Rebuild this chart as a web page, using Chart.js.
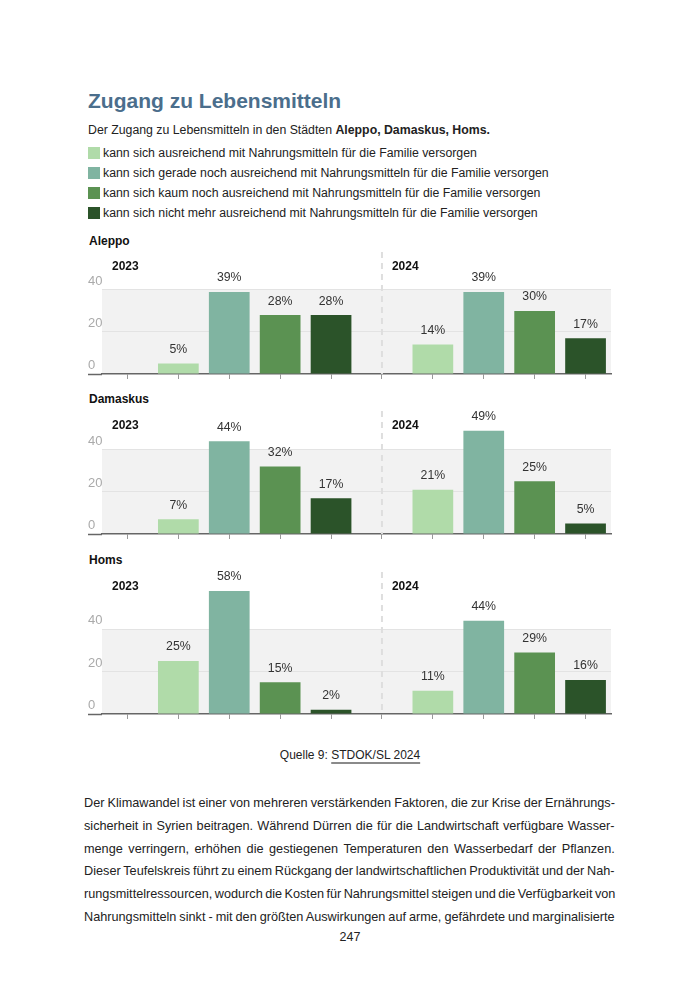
<!DOCTYPE html>
<html lang="de">
<head>
<meta charset="utf-8">
<script src="https://cdn.jsdelivr.net/npm/chart.js@4.4.1/dist/chart.umd.min.js"></script>
<style>
  body { margin: 0; background: #fff; }
  #page { position: relative; width: 700px; height: 990px; overflow: hidden;
          font-family: "Liberation Sans", Arial, sans-serif; color: #222; }
  .t { position: absolute; white-space: nowrap; }
  .title { left: 88px; top: 88px; font-size: 21px; line-height: 26px; font-weight: bold; color: #4b6e8c; }
  .sub { left: 88px; top: 122px; font-size: 12.3px; line-height: 17px; }
  .leg { left: 88px; font-size: 12.3px; line-height: 16px; }
  .leg i { display: inline-block; width: 12px; height: 12px; vertical-align: -2px; margin-right: 3px; }
  .city { left: 89px; font-size: 12px; line-height: 16px; font-weight: bold; color: #111; }
  canvas { position: absolute; left: 80px; }
  .src { left: 0; width: 700px; text-align: center; top: 747px; font-size: 12px; line-height: 16px; }
  .src u { text-decoration-color: #8a8a8a; text-decoration-thickness: 2px; text-underline-offset: 3px; }
  .line { left: 84px; font-size: 12.7px; line-height: 16px; color: #222; }
  .pnum { left: 0; width: 700px; text-align: center; top: 929px; font-size: 12.5px; line-height: 16px; }
</style>
</head>
<body>
<div id="page">
  <div class="t title">Zugang zu Lebensmitteln</div>
  <div class="t sub">Der Zugang zu Lebensmitteln in den Städten <b>Aleppo, Damaskus, Homs.</b></div>
  <div id="legend"></div>

  <div class="t city" style="top:233px">Aleppo</div>
  <canvas id="c0" width="540" height="142" style="top:242px"></canvas>
  <div class="t city" style="top:391px">Damaskus</div>
  <canvas id="c1" width="540" height="143" style="top:401px"></canvas>
  <div class="t city" style="top:552px">Homs</div>
  <canvas id="c2" width="540" height="162" style="top:562px"></canvas>

  <div class="t src">Quelle 9: <u>STDOK/SL 2024</u></div>
  <div id="para"></div>
  <div class="t pnum">247</div>
</div>
<script>
const years = ['2023', '2024'];
const groups = [
  'kann sich ausreichend mit Nahrungsmitteln für die Familie versorgen',
  'kann sich gerade noch ausreichend mit Nahrungsmitteln für die Familie versorgen',
  'kann sich kaum noch ausreichend mit Nahrungsmitteln für die Familie versorgen',
  'kann sich nicht mehr ausreichend mit Nahrungsmitteln für die Familie versorgen'
];
const groupColors = ['#b0dba9', '#80b4a1', '#5b9252', '#2b5329'];

const aleppo2023 = [5, 39, 28, 28];
const aleppo2024 = [14, 39, 30, 17];
const damaskus2023 = [7, 44, 32, 17];
const damaskus2024 = [21, 49, 25, 5];
const homs2023 = [25, 58, 15, 2];
const homs2024 = [11, 44, 29, 16];
const yTicks = [0, 20, 40];

const paraLines = [
  'Der Klimawandel ist einer von mehreren verstärkenden Faktoren, die zur Krise der Ernährungs-',
  'sicherheit in Syrien beitragen. Während Dürren die für die Landwirtschaft verfügbare Wasser-',
  'menge verringern, erhöhen die gestiegenen Temperaturen den Wasserbedarf der Pflanzen.',
  'Dieser Teufelskreis führt zu einem Rückgang der landwirtschaftlichen Produktivität und der Nah-',
  'rungsmittelressourcen, wodurch die Kosten für Nahrungsmittel steigen und die Verfügbarkeit von',
  'Nahrungsmitteln sinkt - mit den größten Auswirkungen auf arme, gefährdete und marginalisierte'
];

// legend
const legend = document.getElementById('legend');
groups.forEach((g, i) => {
  const d = document.createElement('div');
  d.className = 't leg';
  d.style.top = (145 + i * 20) + 'px';
  d.innerHTML = `<i style="background:${groupColors[i]}"></i>${g}`;
  legend.appendChild(d);
});

// paragraph, justified line by line
const para = document.getElementById('para');
const paraWidth = 531;
paraLines.forEach((txt, i) => {
  const d = document.createElement('div');
  d.className = 't line';
  d.style.top = (795 + i * 22.8) + 'px';
  d.textContent = txt;
  para.appendChild(d);
  const spaces = (txt.match(/ /g) || []).length;
  const natural = d.offsetWidth;
  d.style.wordSpacing = ((paraWidth - natural) / spaces) + 'px';
});

const slotLabels = years.flatMap(y => [y, ...groups]);
const slotColors = ['transparent', ...groupColors, 'transparent', ...groupColors];

const panelDeco = {
  id: 'panelDeco',
  beforeDraw(chart) {
    const { ctx, chartArea: a, scales: { y } } = chart;
    ctx.save();
    ctx.fillStyle = '#f2f2f2';
    const top = y.getPixelForValue(40);
    ctx.fillRect(a.left, top, a.right - a.left, y.getPixelForValue(0) - top);
    ctx.restore();
  },
  beforeDatasetsDraw(chart) {
    const { ctx, chartArea: a, scales: { x } } = chart;
    const xd = x.getPixelForValue(5);
    ctx.save();
    ctx.strokeStyle = '#dedede';
    ctx.lineWidth = 2;
    ctx.setLineDash([6, 5]);
    ctx.beginPath();
    ctx.moveTo(xd, a.top);
    ctx.lineTo(xd, a.bottom);
    ctx.stroke();
    ctx.restore();
  },
  afterDatasetsDraw(chart) {
    const { ctx, chartArea: a, scales: { x } } = chart;
    const values = chart.data.datasets[0].data;
    ctx.save();
    ctx.font = '12.3px "Liberation Sans", Arial, sans-serif';
    ctx.fillStyle = '#333';
    ctx.textAlign = 'center';
    ctx.textBaseline = 'middle';
    chart.getDatasetMeta(0).data.forEach((bar, i) => {
      if (values[i] == null) return;
      ctx.fillText(values[i] + '%', bar.x, bar.y - 14);
    });
    // year headers
    ctx.font = 'bold 12px "Liberation Sans", Arial, sans-serif';
    ctx.fillStyle = '#111';
    ctx.textAlign = 'left';
    ctx.fillText(years[0], a.left + 10, a.top + 15);
    ctx.fillText(years[1], x.getPixelForValue(5) + 10, a.top + 15);
    ctx.restore();
  }
};

function makeChart(id, v2023, v2024, yMax) {
  const values = [null, ...v2023, null, ...v2024];
  return new Chart(document.getElementById(id), {
    type: 'bar',
    data: {
      labels: slotLabels,
      datasets: [{
        data: values,
        backgroundColor: slotColors,
        borderWidth: 0,
        barPercentage: 0.8,
        categoryPercentage: 1
      }]
    },
    options: {
      responsive: false,
      animation: false,
      layout: { padding: { left: 8, right: 9, top: 10, bottom: 0 } },
      plugins: { legend: { display: false }, tooltip: { enabled: false } },
      scales: {
        x: {
          grid: { offset: false, drawOnChartArea: false, tickLength: 5, tickColor: '#999' },
          border: { color: '#666', width: 1.5 },
          ticks: { display: false },
          afterFit: s => { s.height = 10; }
        },
        y: {
          min: 0,
          max: yMax,
          afterBuildTicks: s => { s.ticks = yTicks.map(v => ({ value: v })); },
          afterFit: s => { s.width = 14; },
          border: { display: false },
          grid: {
            color: c => c.tick.value === 0 ? 'transparent' : '#e3e3e3',
            tickColor: c => c.tick.value === 0 ? '#666' : 'transparent',
            tickWidth: c => c.tick.value === 0 ? 1.5 : 1,
            tickLength: 14
          },
          ticks: {
            crossAlign: 'far',
            labelOffset: -8.5,
            padding: 0,
            color: '#aaa',
            font: { size: 13, family: '"Liberation Sans", Arial, sans-serif' }
          }
        }
      }
    },
    plugins: [panelDeco]
  });
}

makeChart('c0', aleppo2023, aleppo2024, 58);
makeChart('c1', damaskus2023, damaskus2024, 58.4);
makeChart('c2', homs2023, homs2024, 67);
</script>
</body>
</html>
